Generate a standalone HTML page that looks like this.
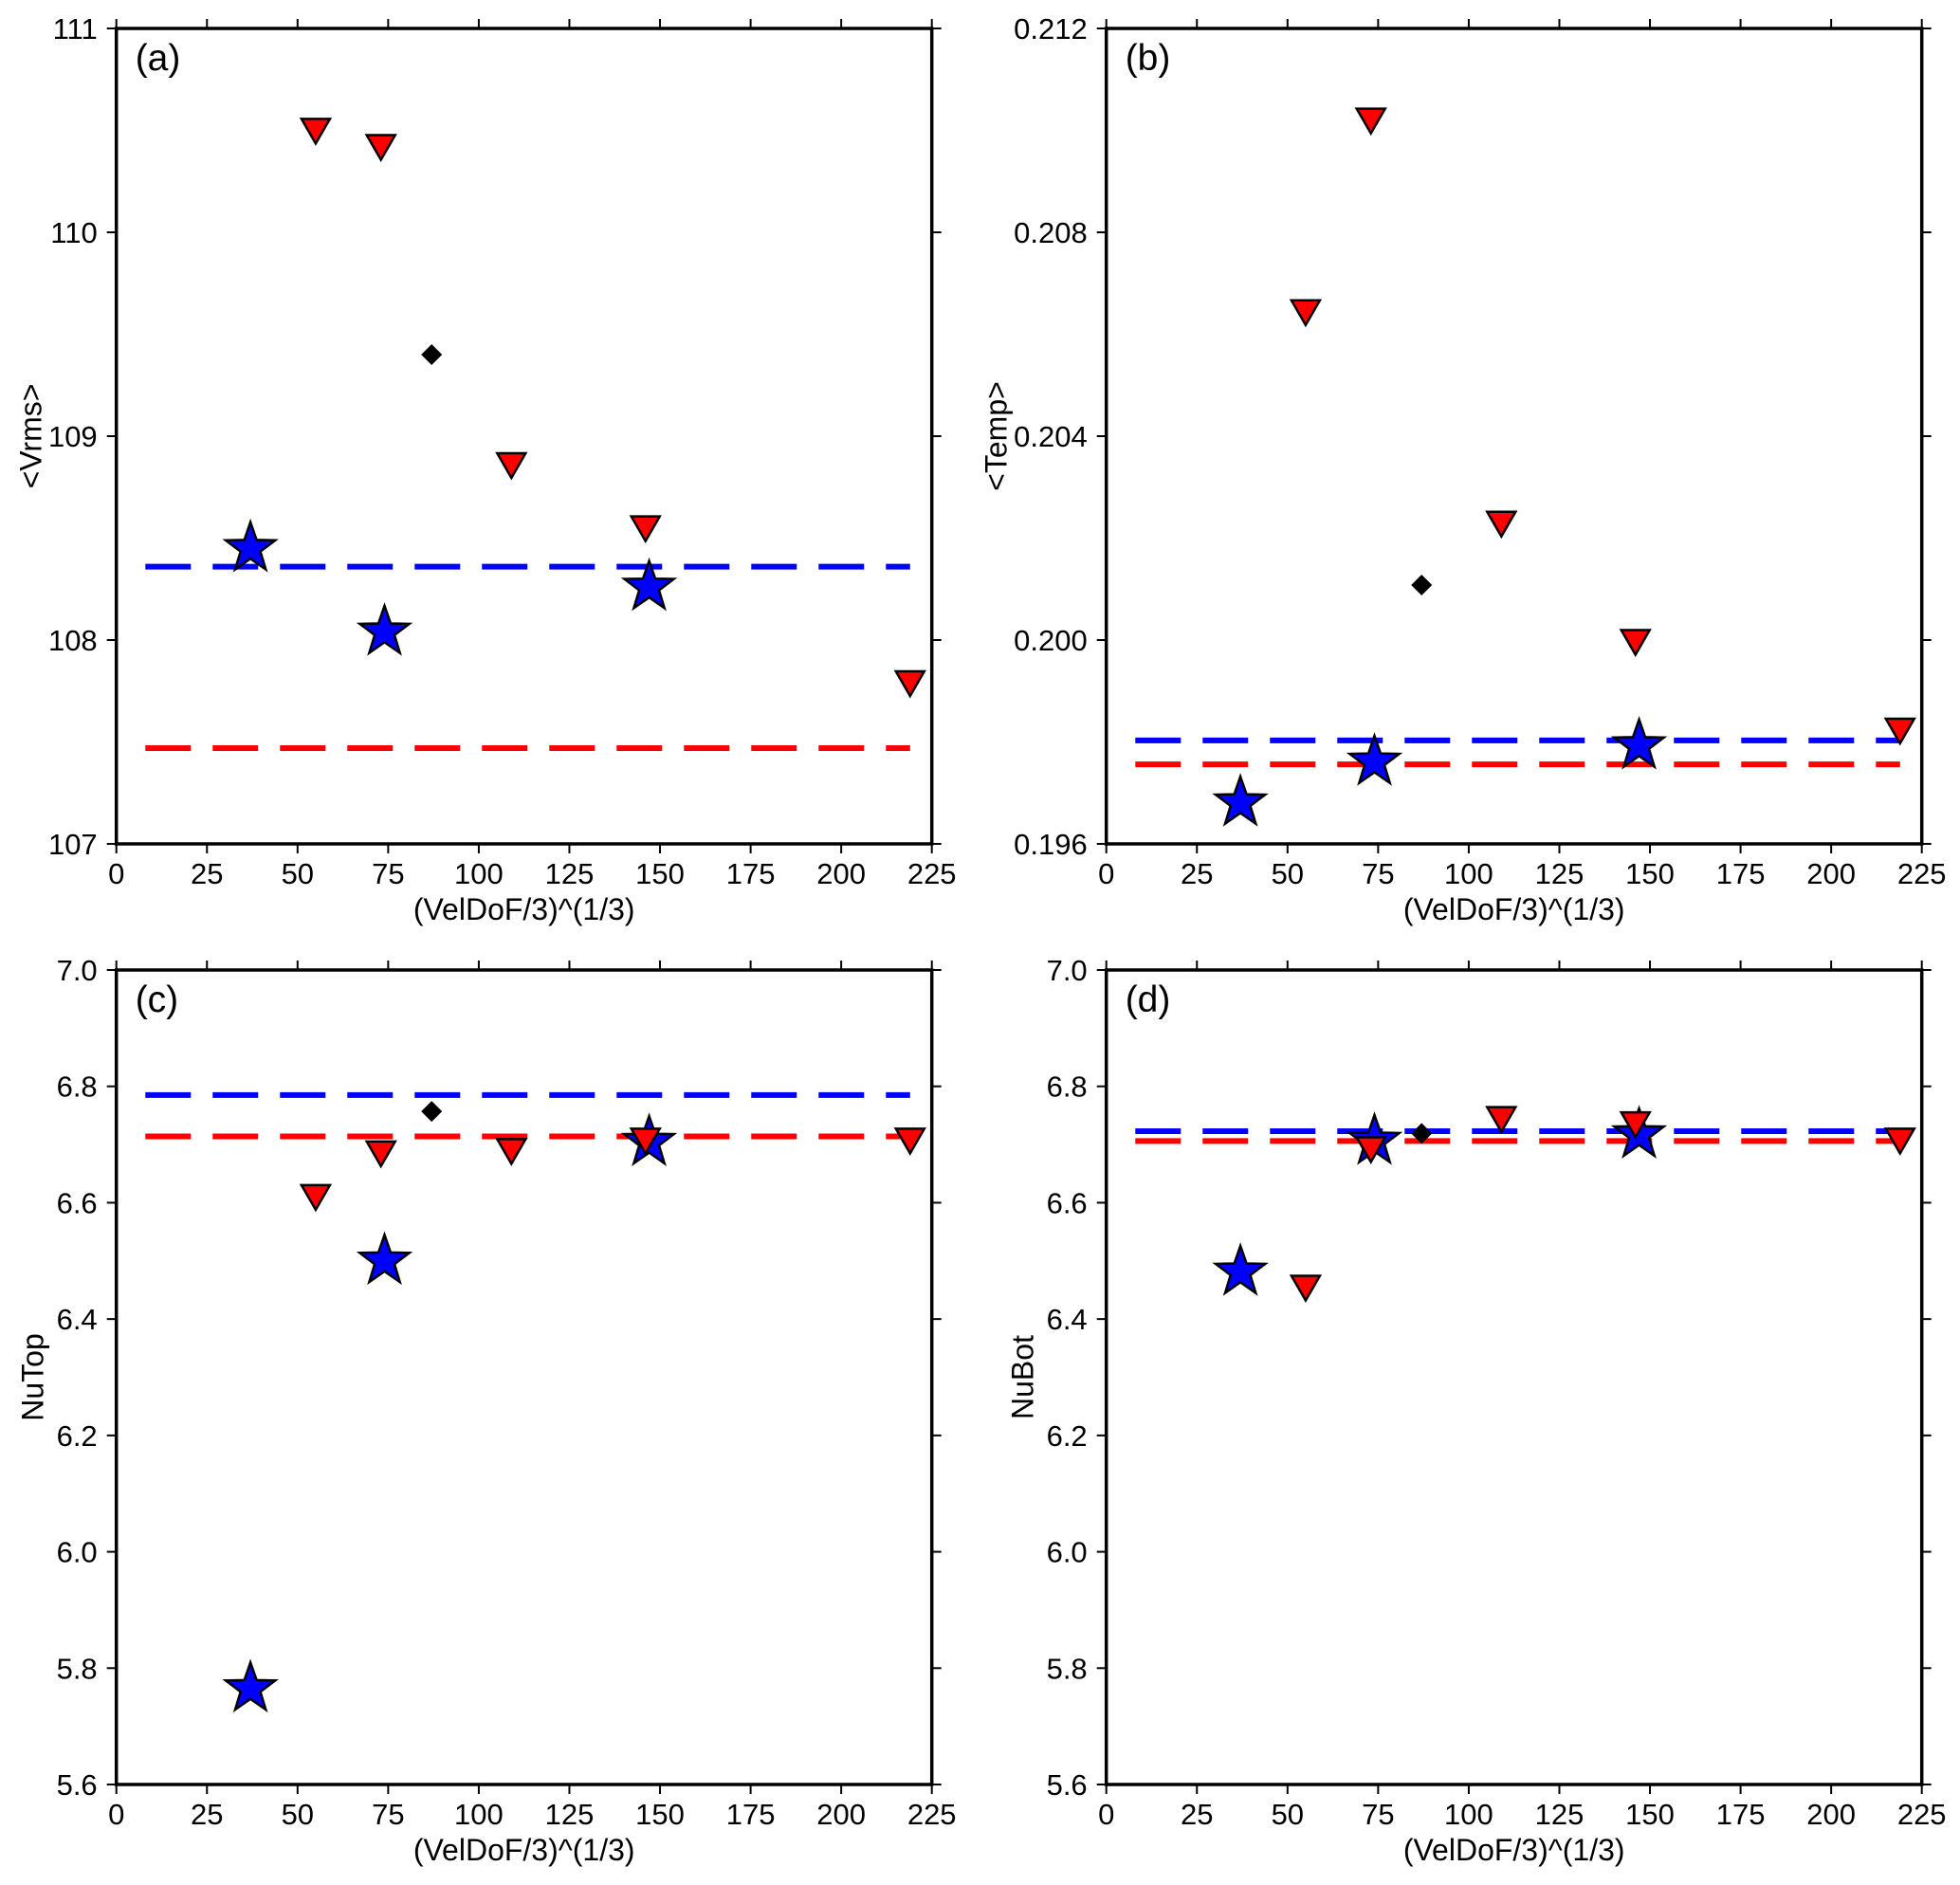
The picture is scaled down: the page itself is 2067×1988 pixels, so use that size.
<!DOCTYPE html>
<html><head><meta charset="utf-8">
<style>
html,body{margin:0;padding:0;background:#fff;}
svg{display:block;font-family:"Liberation Sans",sans-serif;}
</style></head>
<body>
<svg id="fig" width="2067" height="1988" viewBox="0 0 2067 1988" xmlns="http://www.w3.org/2000/svg"></svg>
<script>
// ---- data ----
const xTicks = [0,25,50,75,100,125,150,175,200,225];
const triX = [55,73,109,146,219];
const diaX = [87];
const starX = [37,74,147];

const aTriY = [110.51,110.43,108.87,108.56,107.80];
const aDiaY = [109.40];
const aStarY = [108.45,108.04,108.26];
const aBlueLine = 108.36;
const aRedLine = 107.47;
const aYTicks = [107,108,109,110,111];
const aYLabels = ["107","108","109","110","111"];

const bTriY = [0.20648,0.21024,0.20233,0.20001,0.19827];
const bDiaY = [0.20108];
const bStarY = [0.19681,0.19761,0.19793];
const bBlueLine = 0.19803;
const bRedLine = 0.19756;
const bYTicks = [0.196,0.200,0.204,0.208,0.212];
const bYLabels = ["0.196","0.200","0.204","0.208","0.212"];

const cTriY = [6.614,6.689,6.693,6.711,6.711];
const cDiaY = [6.757];
const cStarY = [5.765,6.500,6.704];
const cBlueLine = 6.785;
const cRedLine = 6.714;
const cYTicks = [5.6,5.8,6.0,6.2,6.4,6.6,6.8,7.0];
const cYLabels = ["5.6","5.8","6.0","6.2","6.4","6.6","6.8","7.0"];

const dTriY = [6.458,6.696,6.748,6.739,6.711];
const dDiaY = [6.719];
const dStarY = [6.481,6.706,6.717];
const dBlueLine = 6.723;
const dRedLine = 6.706;
const dYTicks = [5.6,5.8,6.0,6.2,6.4,6.6,6.8,7.0];
const dYLabels = ["5.6","5.8","6.0","6.2","6.4","6.6","6.8","7.0"];

const lineX0 = 8, lineX1 = 219;

const NS = "http://www.w3.org/2000/svg";
const svg = document.getElementById('fig');
function mk(tag, attrs, parent){
  const e = document.createElementNS(NS, tag);
  for (const k in attrs) e.setAttribute(k, attrs[k]);
  (parent||svg).appendChild(e);
  return e;
}

function panel(id, L, T, W, H, xmin, xmax, ymin, ymax, yTicks, yLabels, yTitle, yTitleOff, tri, dia, star, blue, red){
  const g = mk('g', {});
  
  
  const X = v => L + (v - xmin) / (xmax - xmin) * W;
  const Y = v => T + H - (v - ymin) / (ymax - ymin) * H;

  xTicks.forEach((t) => {
    const x = X(t);
    const tb = mk('line', {x1:x, y1:T+H, x2:x, y2:T+H+10, stroke:'#000','stroke-width':2}, g);
    
    
    const tt = mk('line', {x1:x, y1:T, x2:x, y2:T-10, stroke:'#000','stroke-width':2}, g);
    
    
    const lb = mk('text', {x:x, y:T+H+42, 'font-size':31, 'text-anchor':'middle', fill:'#000'}, g);
    lb.textContent = String(t);
    
    
  });
  yTicks.forEach((t, i) => {
    const y = Y(t);
    const tl = mk('line', {x1:L-10, y1:y, x2:L, y2:y, stroke:'#000','stroke-width':2}, g);
    
    
    const tr = mk('line', {x1:L+W, y1:y, x2:L+W+10, y2:y, stroke:'#000','stroke-width':2}, g);
    
    
    const lb = mk('text', {x:L-20, y:y+11, 'font-size':31, 'text-anchor':'end', fill:'#000'}, g);
    lb.textContent = yLabels[i];
    
    
  });

  const bl = mk('line', {x1:X(lineX0), y1:Y(blue), x2:X(lineX1), y2:Y(blue), stroke:'#0000ff','stroke-width':6,'stroke-dasharray':'48 23'}, g);
  
  
  const rl = mk('line', {x1:X(lineX0), y1:Y(red), x2:X(lineX1), y2:Y(red), stroke:'#ff0000','stroke-width':6,'stroke-dasharray':'48 23'}, g);
  
  

  star.forEach((v, i) => {
    const cx = X(starX[i]), cy = Y(v), R = 27.5, r = 11;
    let pts = [];
    for (let k = 0; k < 10; k++) {
      const a = -Math.PI/2 + k * Math.PI/5;
      const rr = k % 2 ? r : R;
      pts.push((cx + rr*Math.cos(a)).toFixed(1) + ',' + (cy + rr*Math.sin(a)).toFixed(1));
    }
    const s = mk('polygon', {points:pts.join(' '), fill:'#0000ff', stroke:'#000','stroke-width':2.5}, g);
    
    
  });
  dia.forEach((v, i) => {
    const cx = X(diaX[i]), cy = Y(v), h = 11;
    const d = mk('polygon', {points:`${cx},${cy-h} ${cx+h},${cy} ${cx},${cy+h} ${cx-h},${cy}`, fill:'#000'}, g);
    
    
  });
  tri.forEach((v, i) => {
    const cx = X(triX[i]), cy = Y(v);
    const p = mk('polygon', {points:`${cx-15},${cy-10} ${cx+15},${cy-10} ${cx},${cy+16}`, fill:'#ff0000', stroke:'#000','stroke-width':2.5}, g);
    
    
  });

  const fr = mk('rect', {x:L, y:T, width:W, height:H, fill:'none', stroke:'#000','stroke-width':3.5}, g);
  
  

  const pl = mk('text', {x:L+20, y:T+44, 'font-size':39, fill:'#000'}, g);
  pl.textContent = '(' + id + ')';
  
  

  const xt = mk('text', {x:L+W/2, y:T+H+80, 'font-size':32, 'text-anchor':'middle', fill:'#000'}, g);
  xt.textContent = '(VelDoF/3)^(1/3)';
  
  

  const ytx = L - yTitleOff, yty = T + H/2;
  const yt = mk('text', {x:ytx, y:yty, 'font-size':32, 'text-anchor':'middle', fill:'#000', transform:`rotate(-90 ${ytx} ${yty})`}, g);
  yt.textContent = yTitle;
  
  
}

panel('a', 122.7, 30, 860, 860, 0, 225, 107, 111, aYTicks, aYLabels, '<Vrms>', 79, aTriY, aDiaY, aStarY, aBlueLine, aRedLine);
panel('b', 1166.7, 30, 860, 860, 0, 225, 0.196, 0.212, bYTicks, bYLabels, '<Temp>', 105, bTriY, bDiaY, bStarY, bBlueLine, bRedLine);
panel('c', 122.7, 1023, 860, 859, 0, 225, 5.6, 7.0, cYTicks, cYLabels, 'NuTop', 77, cTriY, cDiaY, cStarY, cBlueLine, cRedLine);
panel('d', 1166.7, 1023, 860, 859, 0, 225, 5.6, 7.0, dYTicks, dYLabels, 'NuBot', 77, dTriY, dDiaY, dStarY, dBlueLine, dRedLine);
</script>
</body></html>
